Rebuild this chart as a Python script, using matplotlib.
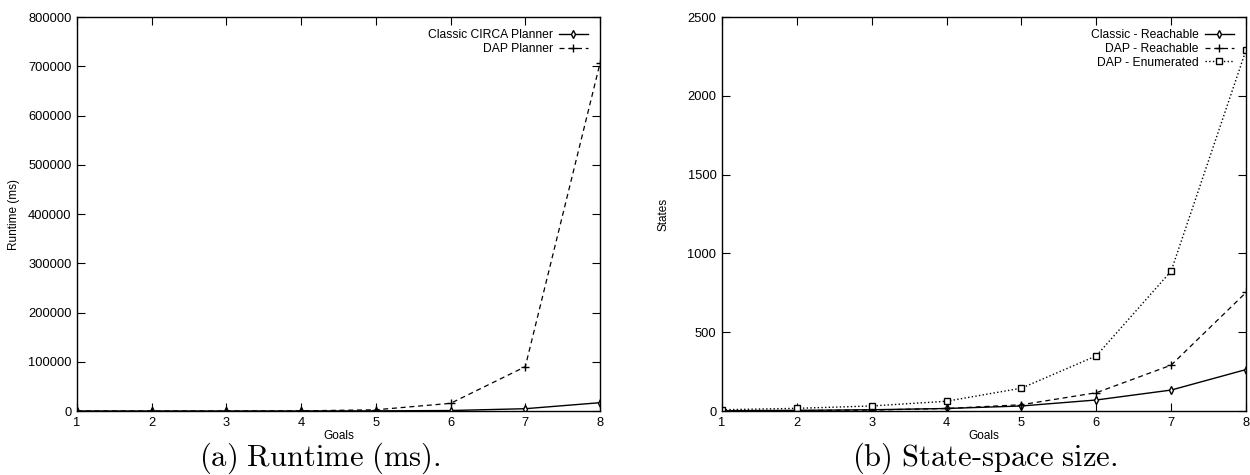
import matplotlib
matplotlib.use('Agg')
import matplotlib.pyplot as plt

plt.rcParams['font.family'] = 'Liberation Sans'
plt.rcParams['mathtext.fontset'] = 'cm'

goals = [1, 2, 3, 4, 5, 6, 7, 8]

# runtime (ms)
classic_runtime = [0, 0, 0, 50, 300, 1000, 4700, 16900]
dap_runtime = [0, 0, 0, 300, 2500, 15600, 90000, 706000]

# state-space size
classic_reach = [2, 4, 8, 16, 32, 70, 133, 263]
dap_reach = [1, 3, 6, 16, 40, 116, 291, 752]
dap_enum = [8, 17, 32, 62, 145, 350, 888, 2290]

fig = plt.figure(figsize=(12.5, 4.75), dpi=100)
ax1 = fig.add_axes([0.0616, 0.1347, 0.4184, 0.8295])
ax2 = fig.add_axes([0.5776, 0.1347, 0.4192, 0.8295])

ax1.plot(goals, classic_runtime, 'k-', marker='d', mfc='white', ms=4, lw=1,
         label='Classic CIRCA Planner')
ax1.plot(goals, dap_runtime, 'k--', marker='+', ms=6, lw=0.9, dashes=(4, 3),
         label='DAP Planner')
ax1.set_ylim(0, 800000)
ax1.set_yticks(range(0, 800001, 100000))
ax1.set_ylabel('Runtime (ms)', fontsize=8.5, labelpad=6)

ax2.plot(goals, classic_reach, 'k-', marker='d', mfc='white', ms=4, lw=1,
         label='Classic - Reachable')
ax2.plot(goals, dap_reach, 'k--', marker='+', ms=6, lw=0.9, dashes=(4, 3),
         label='DAP - Reachable')
ax2.plot(goals, dap_enum, 'k:', marker='s', mfc='white', ms=5, lw=1,
         label='DAP - Enumerated')
ax2.set_ylim(0, 2500)
ax2.set_yticks(range(0, 2501, 500))
ax2.set_ylabel('States', fontsize=8.5, labelpad=13)

for ax in (ax1, ax2):
    ax.set_xlim(1, 8)
    ax.set_xticks(goals)
    ax.set_xlabel('Goals', fontsize=8.5, labelpad=1)
    ax.tick_params(direction='in', top=True, right=True, length=6,
                   width=0.8, labelsize=9.3, pad=4)
    for s in ax.spines.values():
        s.set_linewidth(1)
    ax.legend(loc='upper right', frameon=False, markerfirst=False,
              fontsize=8.7, handlelength=2.4, handletextpad=0.5,
              labelspacing=0.15, borderaxespad=0.6)

fig.text(0.256, 0.02, r'$\mathrm{(a)\ Runtime\ (ms).}$', fontsize=22,
         ha='center', va='baseline')
fig.text(0.788, 0.02, r'$\mathrm{(b)\ State\text{-}space\ size.}$',
         fontsize=22, ha='center', va='baseline')

fig.savefig('out.png', dpi=100)
